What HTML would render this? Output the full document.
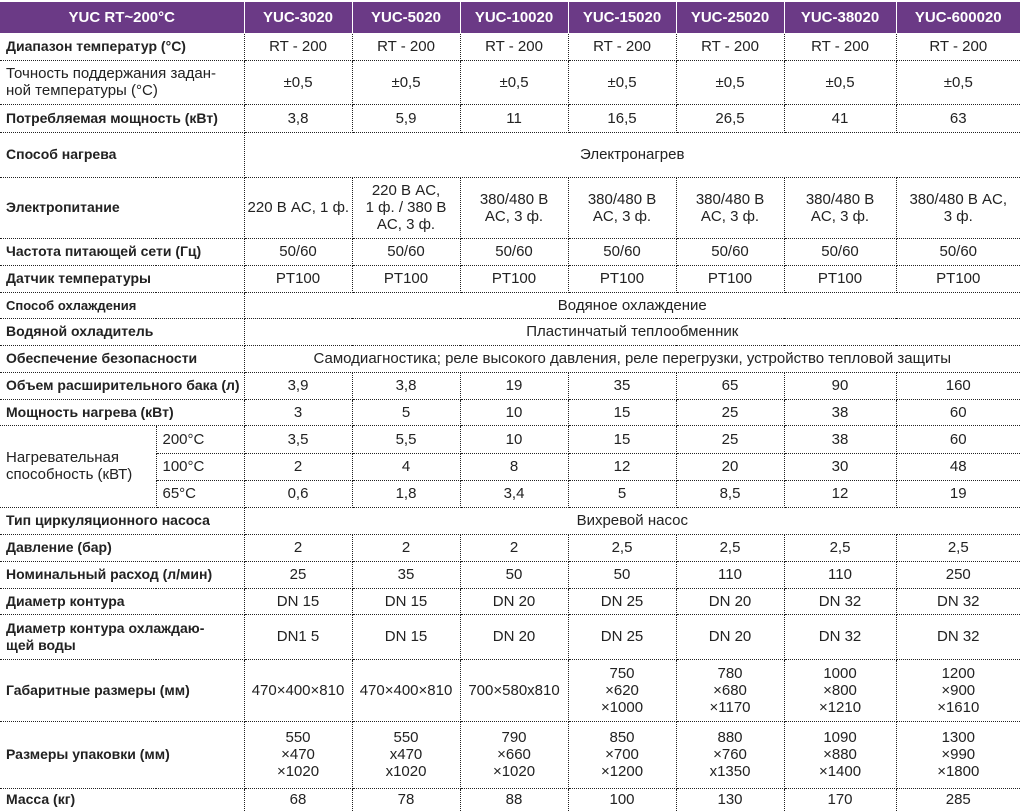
<!DOCTYPE html>
<html><head><meta charset="utf-8"><style>
body{margin:0;width:1020px;height:810px;background:#fff;overflow:hidden}
table{border-collapse:collapse;table-layout:fixed;width:1020px;font-family:"Liberation Sans",sans-serif;font-size:15px;color:#222}
td,th{border:1px dotted #222;padding:0 3px;text-align:center;line-height:17px;overflow:hidden;white-space:nowrap}
tr>*:first-child{border-left:none}
tr>*:last-child{border-right:none}
th{background:#6b3a86;color:#fff;font-weight:bold;font-size:15px;border-top:2px solid #3a2048;border-color:#fff;border-style:dotted}
td.l{text-align:left;padding-left:6px;color:#222;font-weight:bold;font-size:14px}
td.r{font-weight:normal;font-size:15px}
tr:last-child td{border-bottom:none}
</style></head><body>
<table>
<colgroup><col style="width:156px"><col style="width:88px"><col style="width:108px"><col style="width:108px"><col style="width:108px"><col style="width:108px"><col style="width:108px"><col style="width:112px"><col style="width:124px"></colgroup>
<tr style="height:32px"><th colspan="2">YUC RT~200°C</th><th>YUC-3020</th><th>YUC-5020</th><th>YUC-10020</th><th>YUC-15020</th><th>YUC-25020</th><th>YUC-38020</th><th>YUC-600020</th></tr>
<tr style="height:27px"><td class="l" colspan="2">Диапазон температур (°C)</td><td>RT - 200</td><td>RT - 200</td><td>RT - 200</td><td>RT - 200</td><td>RT - 200</td><td>RT - 200</td><td>RT - 200</td></tr>
<tr style="height:44px"><td class="l r" colspan="2">Точность поддержания задан-<br>ной температуры (°C)</td><td>±0,5</td><td>±0,5</td><td>±0,5</td><td>±0,5</td><td>±0,5</td><td>±0,5</td><td>±0,5</td></tr>
<tr style="height:28px"><td class="l" colspan="2">Потребляемая мощность (кВт)</td><td>3,8</td><td>5,9</td><td>11</td><td>16,5</td><td>26,5</td><td>41</td><td>63</td></tr>
<tr style="height:45px"><td class="l" colspan="2">Способ нагрева</td><td colspan="7">Электронагрев</td></tr>
<tr style="height:61px"><td class="l" colspan="2">Электропитание</td><td>220 В AC, 1 ф.</td><td>220 В AC,<br>1 ф. / 380 В<br>AC, 3 ф.</td><td>380/480 В<br>AC, 3 ф.</td><td>380/480 В<br>AC, 3 ф.</td><td>380/480 В<br>AC, 3 ф.</td><td>380/480 В<br>AC, 3 ф.</td><td>380/480 В AC,<br>3 ф.</td></tr>
<tr style="height:27px"><td class="l" colspan="2">Частота питающей сети (Гц)</td><td>50/60</td><td>50/60</td><td>50/60</td><td>50/60</td><td>50/60</td><td>50/60</td><td>50/60</td></tr>
<tr style="height:27px"><td class="l" colspan="2">Датчик температуры</td><td>PT100</td><td>PT100</td><td>PT100</td><td>PT100</td><td>PT100</td><td>PT100</td><td>PT100</td></tr>
<tr style="height:26px"><td class="l" colspan="2" style="font-size:13px">Способ охлаждения</td><td colspan="7">Водяное охлаждение</td></tr>
<tr style="height:27px"><td class="l" colspan="2">Водяной охладитель</td><td colspan="7">Пластинчатый теплообменник</td></tr>
<tr style="height:27px"><td class="l" colspan="2">Обеспечение безопасности</td><td colspan="7">Самодиагностика; реле высокого давления, реле перегрузки, устройство тепловой защиты</td></tr>
<tr style="height:27px"><td class="l" colspan="2">Объем расширительного бака (л)</td><td>3,9</td><td>3,8</td><td>19</td><td>35</td><td>65</td><td>90</td><td>160</td></tr>
<tr style="height:26px"><td class="l" colspan="2">Мощность нагрева (кВт)</td><td>3</td><td>5</td><td>10</td><td>15</td><td>25</td><td>38</td><td>60</td></tr>
<tr style="height:28px"><td class="l r" rowspan="3">Нагревательная<br>способность (кВТ)</td><td class="l r">200°C</td><td>3,5</td><td>5,5</td><td>10</td><td>15</td><td>25</td><td>38</td><td>60</td></tr>
<tr style="height:27px"><td class="l r">100°C</td><td>2</td><td>4</td><td>8</td><td>12</td><td>20</td><td>30</td><td>48</td></tr>
<tr style="height:27px"><td class="l r">65°C</td><td>0,6</td><td>1,8</td><td>3,4</td><td>5</td><td>8,5</td><td>12</td><td>19</td></tr>
<tr style="height:27px"><td class="l" colspan="2">Тип циркуляционного насоса</td><td colspan="7">Вихревой насос</td></tr>
<tr style="height:27px"><td class="l" colspan="2">Давление (бар)</td><td>2</td><td>2</td><td>2</td><td>2,5</td><td>2,5</td><td>2,5</td><td>2,5</td></tr>
<tr style="height:27px"><td class="l" colspan="2">Номинальный расход (л/мин)</td><td>25</td><td>35</td><td>50</td><td>50</td><td>110</td><td>110</td><td>250</td></tr>
<tr style="height:26px"><td class="l" colspan="2">Диаметр контура</td><td>DN 15</td><td>DN 15</td><td>DN 20</td><td>DN 25</td><td>DN 20</td><td>DN 32</td><td>DN 32</td></tr>
<tr style="height:45px"><td class="l" colspan="2">Диаметр контура охлаждаю-<br>щей воды</td><td>DN1 5</td><td>DN 15</td><td>DN 20</td><td>DN 25</td><td>DN 20</td><td>DN 32</td><td>DN 32</td></tr>
<tr style="height:62px"><td class="l" colspan="2">Габаритные размеры (мм)</td><td>470×400×810</td><td>470×400×810</td><td>700×580x810</td><td>750<br>×620<br>×1000</td><td>780<br>×680<br>×1170</td><td>1000<br>×800<br>×1210</td><td>1200<br>×900<br>×1610</td></tr>
<tr style="height:67px"><td class="l" colspan="2">Размеры упаковки (мм)</td><td>550<br>×470<br>×1020</td><td>550<br>x470<br>x1020</td><td>790<br>×660<br>×1020</td><td>850<br>×700<br>×1200</td><td>880<br>×760<br>x1350</td><td>1090<br>×880<br>×1400</td><td>1300<br>×990<br>×1800</td></tr>
<tr style="height:23px"><td class="l" colspan="2">Масса (кг)</td><td>68</td><td>78</td><td>88</td><td>100</td><td>130</td><td>170</td><td>285</td></tr>
</table>
</body></html>
